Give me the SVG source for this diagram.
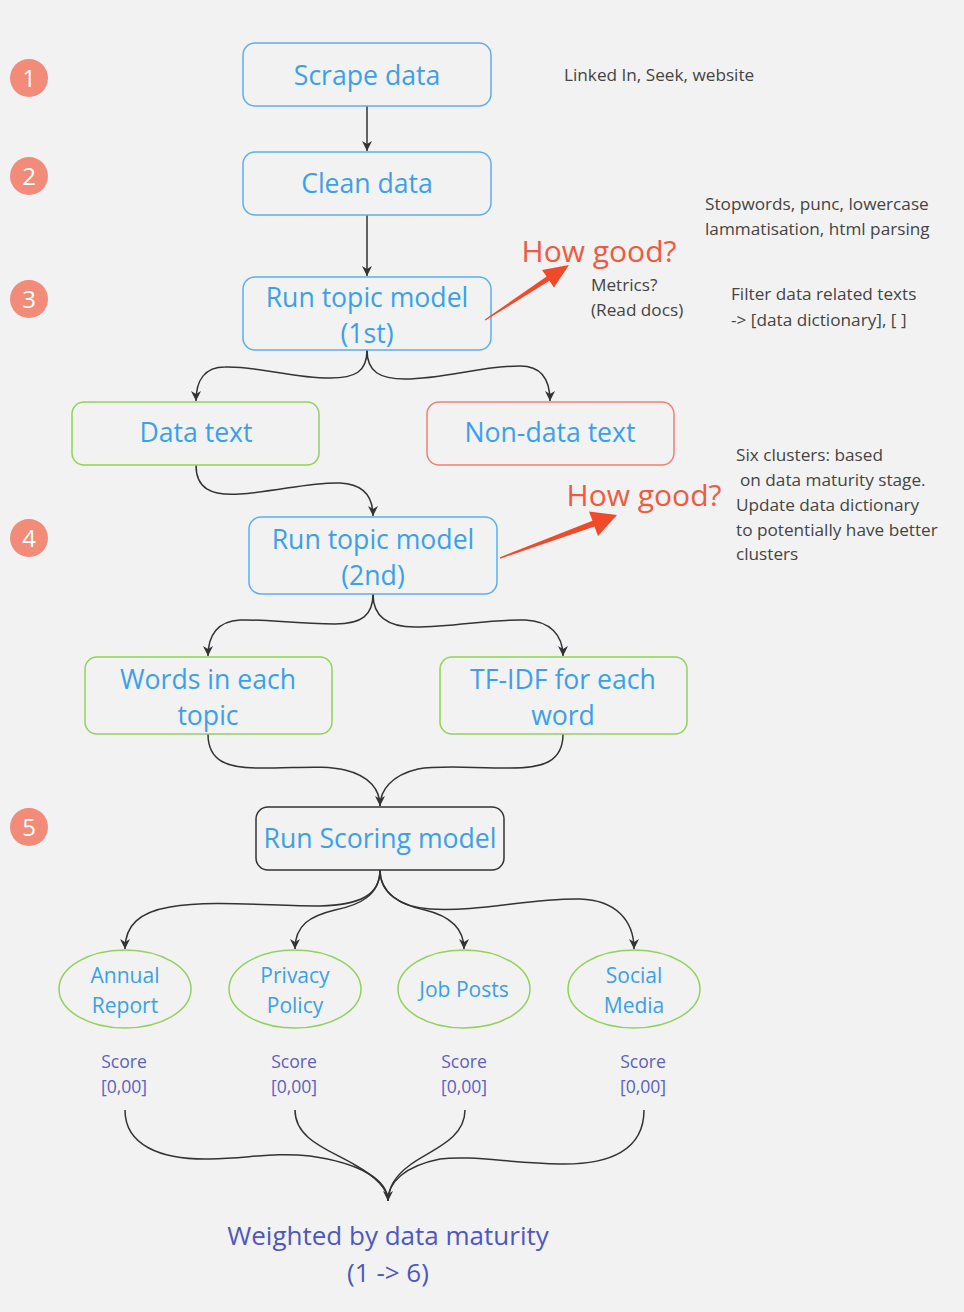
<svg xmlns="http://www.w3.org/2000/svg" width="964" height="1312" viewBox="0 0 964 1312">
<defs>
<marker id="arr" markerUnits="userSpaceOnUse" markerWidth="12" markerHeight="12" viewBox="0 0 12 12" refX="10" refY="6" orient="auto">
<path d="M0,1 L10,6 L0,11 L3,6 Z" fill="#333"/>
</marker>
<style>
.node{fill:none;stroke-width:1.5}
.blue{stroke:#5aaef2}
.green{stroke:#8fd35a}
.red{stroke:#f28070}
.dark{stroke:#333}
.nt{font-family:"Open Sans","Noto Sans",sans-serif;font-size:26.6px;fill:#3ba0ec;text-anchor:middle}
.et{font-family:"Open Sans","Noto Sans",sans-serif;font-size:21px;fill:#3ba0ec;text-anchor:middle}
.note{font-family:"Open Sans","Noto Sans",sans-serif;font-size:17.2px;fill:#444}
.hg{font-family:"Open Sans","Noto Sans",sans-serif;font-size:30px;fill:#f05a40;text-anchor:middle}
.sc{font-family:"Open Sans","Noto Sans",sans-serif;font-size:17.6px;fill:#5b5fc7;text-anchor:middle}
.wt{font-family:"Open Sans","Noto Sans",sans-serif;font-size:26px;fill:#4d57c4;text-anchor:middle}
.num circle{fill:#f28b78}
.num text{font-family:"Open Sans","Noto Sans",sans-serif;font-size:24px;fill:#fff;text-anchor:middle}
.conn path{fill:none;stroke:#333;stroke-width:1.5}
</style>
</defs>
<rect width="964" height="1312" fill="#f2f2f2"/>

<g id="steps" class="num">
<circle cx="29" cy="78" r="19"/><text x="29" y="87">1</text>
<circle cx="29" cy="176" r="19"/><text x="29" y="185">2</text>
<circle cx="29" cy="299" r="19"/><text x="29" y="308">3</text>
<circle cx="29" cy="538" r="19"/><text x="29" y="547">4</text>
<circle cx="29" cy="827" r="19"/><text x="29" y="836">5</text>
</g>

<g id="connectors" class="conn">
<path d="M367,106 L367,151" marker-end="url(#arr)"/>
<path d="M367,215 L367,276" marker-end="url(#arr)"/>
<path d="M367,350 C367,372 355,378 330,378 C290,378 260,366 225,367 C205,367 196,380 196,401" marker-end="url(#arr)"/>
<path d="M367,350 C367,372 380,379 405,379 C445,379 480,366 520,366 C540,366 550,378 550,401" marker-end="url(#arr)"/>
<path d="M196,465 C196,488 210,496 240,494 C280,491 310,482 340,483 C362,484 373,495 373,516" marker-end="url(#arr)"/>
<path d="M373,594 C373,615 362,624 335,624 C295,624 265,619 240,620 C218,621 208,635 208,656" marker-end="url(#arr)"/>
<path d="M373,594 C373,615 385,627 415,627 C455,627 490,619 525,620 C550,621 563,635 563,656" marker-end="url(#arr)"/>
<path d="M208,734 C208,762 228,768 260,768 C300,768 325,765 345,770 C370,776 380,790 380,806" marker-end="url(#arr)"/>
<path d="M563,734 C563,762 543,768 510,768 C470,768 440,765 418,769 C392,775 380,790 380,806"/>
<path d="M380,870 C380,895 360,905 320,906 C270,906 210,900 170,907 C140,912 125,925 125,949" marker-end="url(#arr)"/>
<path d="M380,870 C380,895 360,905 335,910 C310,916 295,925 295,949" marker-end="url(#arr)"/>
<path d="M380,870 C380,893 400,905 425,910 C450,916 464,928 464,949" marker-end="url(#arr)"/>
<path d="M380,870 C380,893 400,907 430,909 C480,912 530,898 580,899 C615,900 634,920 634,949" marker-end="url(#arr)"/>
<path d="M125,1110 C125,1145 160,1160 210,1159 C250,1158 275,1152 310,1156 C360,1163 388,1180 388,1201" marker-end="url(#arr)"/>
<path d="M295,1110 C295,1140 330,1150 355,1165 C378,1178 388,1190 388,1201"/>
<path d="M465,1110 C465,1140 430,1150 410,1165 C395,1176 388,1188 388,1201"/>
<path d="M644,1110 C644,1150 610,1165 560,1164 C510,1163 470,1155 440,1159 C405,1166 388,1182 388,1201"/>
</g>

<g id="scrape"><rect class="node blue" x="243" y="43" width="248" height="63" rx="12"/><text class="nt" x="367" y="85">Scrape data</text></g>
<g id="clean"><rect class="node blue" x="243" y="152" width="248" height="63" rx="12"/><text class="nt" x="367" y="193">Clean data</text></g>
<g id="topic1"><rect class="node blue" x="243" y="277" width="248" height="73" rx="12"/><text class="nt" x="367" y="307">Run topic model</text><text class="nt" x="367" y="343">(1st)</text></g>
<g id="datatext"><rect class="node green" x="72" y="402" width="247" height="63" rx="12"/><text class="nt" x="196" y="442">Data text</text></g>
<g id="nondatatext"><rect class="node red" x="427" y="402" width="247" height="63" rx="12"/><text class="nt" x="550" y="442">Non-data text</text></g>
<g id="topic2"><rect class="node blue" x="249" y="517" width="248" height="77" rx="12"/><text class="nt" x="373" y="549">Run topic model</text><text class="nt" x="373" y="585">(2nd)</text></g>
<g id="words"><rect class="node green" x="85" y="657" width="247" height="77" rx="12"/><text class="nt" x="208" y="689">Words in each</text><text class="nt" x="208" y="725">topic</text></g>
<g id="tfidf"><rect class="node green" x="440" y="657" width="247" height="77" rx="12"/><text class="nt" x="563" y="689">TF-IDF for each</text><text class="nt" x="563" y="725">word</text></g>
<g id="scoring"><rect class="node dark" x="256" y="807" width="248" height="63" rx="12"/><text class="nt" x="380" y="848">Run Scoring model</text></g>

<g id="annual"><ellipse class="node green" cx="125" cy="989" rx="66" ry="39"/><text class="et" x="125" y="983">Annual</text><text class="et" x="125" y="1013">Report</text></g>
<g id="privacy"><ellipse class="node green" cx="295" cy="989" rx="66" ry="39"/><text class="et" x="295" y="983">Privacy</text><text class="et" x="295" y="1013">Policy</text></g>
<g id="jobposts"><ellipse class="node green" cx="464" cy="989" rx="66" ry="39"/><text class="et" x="464" y="997">Job Posts</text></g>
<g id="social"><ellipse class="node green" cx="634" cy="989" rx="66" ry="39"/><text class="et" x="634" y="983">Social</text><text class="et" x="634" y="1013">Media</text></g>

<g id="scores">
<text class="sc" x="124" y="1068">Score</text><text class="sc" x="124" y="1093">[0,00]</text>
<text class="sc" x="294" y="1068">Score</text><text class="sc" x="294" y="1093">[0,00]</text>
<text class="sc" x="464" y="1068">Score</text><text class="sc" x="464" y="1093">[0,00]</text>
<text class="sc" x="643" y="1068">Score</text><text class="sc" x="643" y="1093">[0,00]</text>
</g>

<g id="weighted"><text class="wt" x="388" y="1245">Weighted by data maturity</text><text class="wt" x="388" y="1282">(1 -&gt; 6)</text></g>

<g id="howgood1">
<polygon points="485.3,320.6 549.4,280.8 554,287.5 569,265 542,270 546.6,276.6 484.7,319.4" fill="#f04a2a"/>
<text class="hg" x="599" y="262">How good?</text>
</g>
<g id="howgood2">
<polygon points="500,558.8 594.5,526.4 598,536 617,515 589,511.4 592.5,520.8 500,557.2" fill="#f04a2a"/>
<text class="hg" x="644" y="506">How good?</text>
</g>

<g id="notes">
<text class="note" x="564" y="81">Linked In, Seek, website</text>
<text class="note" x="705" y="210">Stopwords, punc, lowercase</text>
<text class="note" x="705" y="235">lammatisation, html parsing</text>
<text class="note" x="591" y="291">Metrics?</text>
<text class="note" x="591" y="316">(Read docs)</text>
<text class="note" x="731" y="300">Filter data related texts</text>
<text class="note" x="731" y="326">-&gt; [data dictionary], [ ]</text>
<text class="note" x="736" y="461">Six clusters: based</text>
<text class="note" x="740" y="486">on data maturity stage.</text>
<text class="note" x="736" y="511">Update data dictionary</text>
<text class="note" x="736" y="536">to potentially have better</text>
<text class="note" x="736" y="560">clusters</text>
</g>
</svg>
